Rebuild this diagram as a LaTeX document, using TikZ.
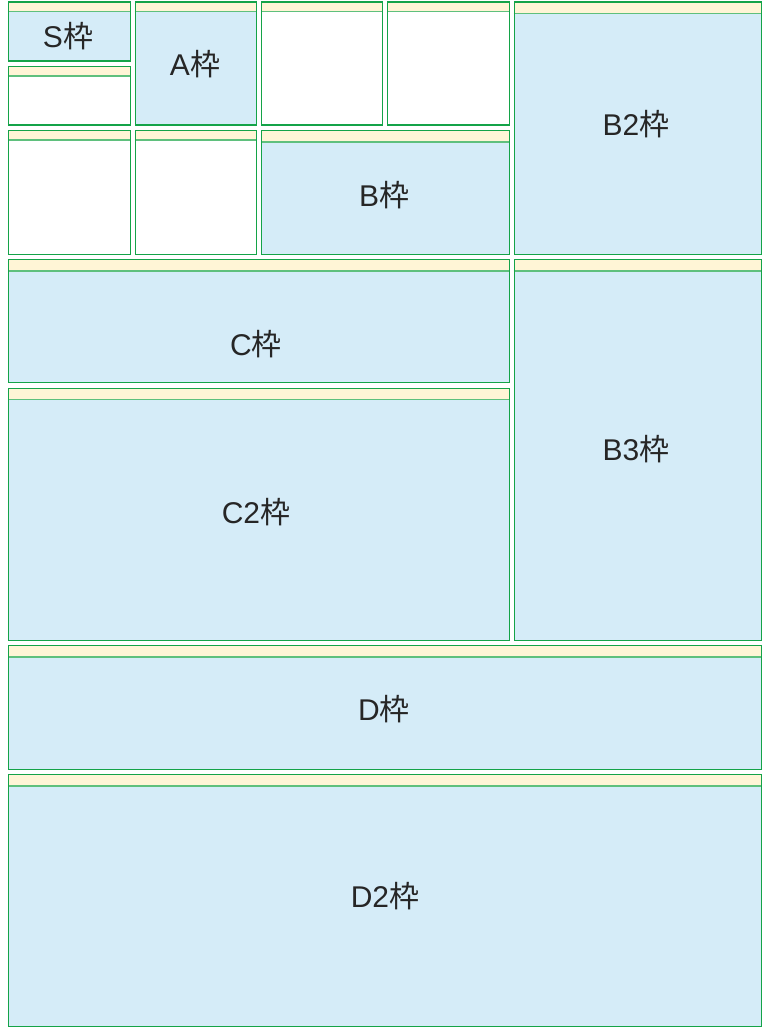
\documentclass[tikz,border=0pt]{standalone}
\usepackage{fontspec}
\setmainfont{Liberation Sans}
\newfontfamily\jpfont{Noto Sans CJK JP}
\definecolor{wgreen}{RGB}{20,163,72}
\definecolor{wlgreen}{RGB}{95,192,125}
\definecolor{wblue}{RGB}{213,236,248}
\definecolor{wcream}{RGB}{255,245,214}
\newcommand\wk{{\jpfont 枠}}
\tikzset{
  boxline/.style={draw=wgreen, line width=1.4pt},
  headline/.style={draw=wlgreen, line width=1.3pt},
  lbl/.style={anchor=base, inner sep=0pt, font=\fontsize{30}{30}\selectfont, text=black!85}
}
\begin{document}
\begin{tikzpicture}[x=1pt,y=-1pt]
\useasboundingbox[fill=white] (0,0) rectangle (767,1027);
\foreach \n/\xa/\ya/\xb/\yb/\h/\f in {
  s/8/1.5/130/60.5/10/wblue,
  s2/8/66/130/124.5/10/white,
  a/134.5/1.5/256/124.5/10/wblue,
  e1/261/1.5/382/124.5/10/white,
  e2/387/1.5/508.5/124.5/10/white,
  btwo/513.5/1.5/761/253.5/12/wblue,
  e3/8/130/130/253.5/10/white,
  e4/134.5/130/256/253.5/10/white,
  b/261/130/508.5/253.5/12/wblue,
  c/8/259/508.5/382/12/wblue,
  bthree/513.5/259/761/639.5/12/wblue,
  ctwo/8/387.5/508.5/639.5/12/wblue,
  d/8/645/761/768.5/12/wblue,
  dtwo/8/774/761/1025.5/12/wblue}{
  \path[fill=\f] (\xa,\ya) rectangle (\xb,\yb);
  \path[fill=wcream] (\xa,\ya) rectangle ({\xb},{\ya+\h});
  \draw[headline] ({\xa},{\ya+\h}) -- ({\xb},{\ya+\h});
  \node[boxline, draw, rectangle, inner sep=0pt, anchor=north west,
        minimum width={(\xb-\xa)*1pt}, minimum height={(\yb-\ya)*1pt}]
        (box-\n) at (\xa,\ya) {};
}
\node[lbl] (ls)  at (68,48)   {S\wk};
\node[lbl] (la)  at (195,76)  {A\wk};
\node[lbl] (lb)  at (384,207) {B\wk};
\node[lbl] (lb2) at (636,136) {B2\wk};
\node[lbl] (lc)  at (256,355) {C\wk};
\node[lbl] (lc2) at (256,523) {C2\wk};
\node[lbl] (lb3) at (636,460) {B3\wk};
\node[lbl] (ld)  at (384,720) {D\wk};
\node[lbl] (ld2) at (385,907) {D2\wk};
\end{tikzpicture}
\end{document}
